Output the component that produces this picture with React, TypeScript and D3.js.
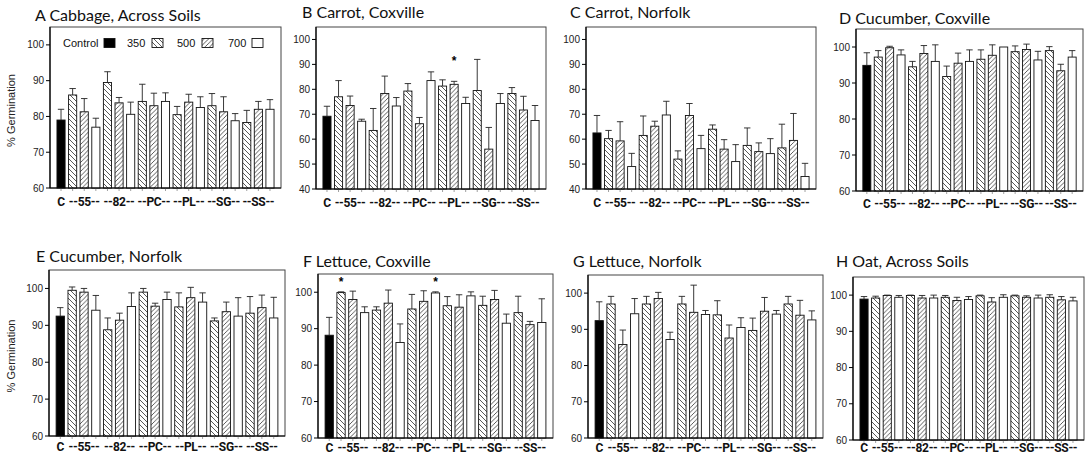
import * as d3 from "d3";

// bar order: control, then each soil amendment at 350 / 500 / 700
const soils = ["55", "82", "PC", "PL", "SG", "SS"];
const levels = ["350", "500", "700"];
const groupLabels = ["C", "--55--", "--82--", "--PC--", "--PL--", "--SG--", "--SS--"];
const legendLabels = ["Control", "350", "500", "700"];
const barKeys = ["C", ...soils.flatMap((s) => levels.map((l) => s + "-" + l))];

const ticks60 = [60, 70, 80, 90, 100];
const ticks40 = [40, 50, 60, 70, 80, 90, 100];

const titles = [
  "A Cabbage, Across Soils",
  "B Carrot, Coxville",
  "C Carrot, Norfolk",
  "D Cucumber, Coxville",
  "E Cucumber, Norfolk",
  "F Lettuce, Coxville",
  "G Lettuce, Norfolk",
  "H Oat, Across Soils",
];

const meanA = [79, 86, 81.3, 77, 89.5, 83.8, 80.6, 84.2, 83, 84.2, 80.5, 84, 82.5, 83, 81.3, 78.8, 78.3, 82, 82];
const seA = [3, 1.8, 3.7, 2.5, 3, 1.5, 3.4, 4.8, 3.5, 2.4, 2.3, 2.2, 3, 3.4, 4.2, 2, 3.4, 2.2, 2.7];
const meanB = [69.2, 77, 73.5, 67.2, 63.5, 78.3, 73.3, 79.3, 66.2, 83.5, 81.3, 82, 74.3, 79.5, 56, 74.3, 78.3, 71.7, 67.5];
const seB = [4, 6.5, 3.8, 0.8, 8.8, 7, 3.4, 3, 2.5, 3.5, 2.5, 1.2, 2.5, 12.5, 8.7, 4, 2.4, 5.5, 6];
const meanC = [62.5, 60.2, 59.3, 49, 61.5, 65.2, 69.7, 52, 69.5, 56.2, 64, 56, 51, 57.5, 55, 54.2, 56.5, 59.5, 45];
const seC = [7, 3.3, 7.7, 5.3, 7.8, 2, 5.5, 3.3, 4.8, 5.3, 1.7, 3.8, 6.8, 7, 3.5, 6, 9.5, 10.8, 5.3];
const meanD = [94.9, 97.2, 99.8, 97.8, 94.5, 98.2, 96, 91.8, 95.5, 96, 96.6, 97.7, 100, 98.7, 99.3, 96.4, 99, 93.4, 97.2];
const seD = [3.5, 1.8, 0.4, 1.4, 1.5, 2.2, 4.6, 2.9, 2.8, 3.2, 2.6, 2.9, 0, 1.6, 1.5, 2.4, 1.1, 1.8, 1.8];
const meanE = [92.5, 99.5, 99, 94.1, 88.8, 91.4, 95.1, 99, 95.2, 97, 95, 97.5, 96.3, 91.2, 93.7, 92.5, 93.3, 94.8, 92];
const seE = [2.3, 0.9, 1, 4, 3.2, 1.9, 3.7, 1, 0.8, 2, 3.8, 2.8, 2.5, 0.8, 2.6, 5, 4.5, 3.4, 5.6];
const meanF = [88.2, 99.9, 98, 94.4, 95.1, 97, 86.2, 95.4, 97.5, 99.8, 96.3, 95.9, 99, 96.4, 98, 91.5, 94.4, 91.1, 91.7];
const seF = [4.9, 0.2, 2.3, 1.6, 0.9, 3.6, 5.1, 4, 2.9, 0.3, 2.5, 3.4, 1.1, 2.5, 2.5, 2.5, 4.5, 0.9, 6.5];
const meanG = [92.4, 97, 85.8, 94.3, 97, 98.5, 87.2, 97, 94.7, 94.1, 94, 87.6, 90.5, 89.7, 95, 94.2, 97, 93.9, 92.6];
const seG = [5.2, 2.1, 4, 4.2, 2.1, 1.7, 2, 2.1, 7.5, 1.1, 3.9, 3.6, 2.7, 3.4, 3.8, 1, 2.1, 4.1, 2.5];
const meanH = [98.9, 99.2, 99.9, 99.4, 99.9, 99.2, 99.2, 99.4, 98.5, 98.8, 99.8, 98.1, 99.4, 99.8, 99.4, 99.2, 99.4, 98.7, 98.4];
const seH = [0.7, 0.5, 0.1, 0.5, 0.1, 0.7, 0.8, 0.5, 0.9, 0.8, 0.2, 1.2, 0.7, 0.2, 0.4, 0.8, 0.7, 0.9, 1];

// significance marks: [bar index, height in % units]
const starsB = [[11, 91.7]];
const starsF = [[1, 103.2], [9, 103.2]];

// panel frames in page pixels (lb = baseline of category labels)
const layout = [
  { x0: 50, x1: 281, y0: 27, y1: 188, tx: 35, ty: 21, lb: 206 },
  { x0: 316, x1: 546, y0: 27, y1: 189, tx: 302, ty: 18, lb: 207 },
  { x0: 586, x1: 816, y0: 27, y1: 189, tx: 570, ty: 18, lb: 207 },
  { x0: 856, x1: 1083, y0: 29, y1: 191, tx: 839, ty: 24, lb: 208 },
  { x0: 49, x1: 285, y0: 270, y1: 436, tx: 36, ty: 262, lb: 451 },
  { x0: 318, x1: 553, y0: 274, y1: 438, tx: 303, ty: 267, lb: 452 },
  { x0: 588, x1: 823, y0: 275, y1: 438, tx: 573, ty: 267, lb: 452 },
  { x0: 853, x1: 1084, y0: 277, y1: 440, tx: 836, ty: 267, lb: 452 },
];

const panels = [
  { mean: meanA, se: seA, ticks: ticks60, stars: [] as number[][] },
  { mean: meanB, se: seB, ticks: ticks40, stars: starsB },
  { mean: meanC, se: seC, ticks: ticks40, stars: [] as number[][] },
  { mean: meanD, se: seD, ticks: ticks60, stars: [] as number[][] },
  { mean: meanE, se: seE, ticks: ticks60, stars: [] as number[][] },
  { mean: meanF, se: seF, ticks: ticks60, stars: starsF },
  { mean: meanG, se: seG, ticks: ticks60, stars: [] as number[][] },
  { mean: meanH, se: seH, ticks: ticks60, stars: [] as number[][] },
];

const fills = ["#000", "url(#hatch350)", "url(#hatch500)", "#fff"];
const arial = "'Liberation Sans', Arial, sans-serif";
const lato = "Lato, 'Open Sans', sans-serif";

function fillFor(i: number) {
  return i === 0 ? fills[0] : fills[1 + ((i - 1) % 3)];
}

function Panel({ idx }: { idx: number }) {
  const p = panels[idx];
  const L = layout[idx];
  const x = d3.scaleBand<string>().domain(barKeys).range([L.x0, L.x1]).paddingInner(0.3).paddingOuter(0.6);
  const y = d3.scaleLinear().domain([p.ticks[0], 105]).range([L.y1, L.y0]);
  const bw = x.bandwidth();
  const groupCenter = (g: number) => {
    const k = g === 0 ? barKeys[0] : barKeys[1 + (g - 1) * 3 + 1];
    return (x(k) as number) + bw / 2;
  };
  return (
    <g>
      <text x={L.tx} y={L.ty} fontFamily={lato} fontSize={16} fill="#111">
        {titles[idx]}
      </text>
      {/* frame */}
      <rect x={L.x0} y={L.y0} width={L.x1 - L.x0} height={L.y1 - L.y0} fill="none" stroke="#444" strokeWidth={1} />
      {barKeys.map((k, i) => {
        const bx = x(k) as number;
        const top = y(p.mean[i]);
        const et = y(p.mean[i] + p.se[i]);
        const cx = bx + bw / 2;
        return (
          <g key={k}>
            <rect x={bx} y={top} width={bw} height={L.y1 - top} fill={fillFor(i)} stroke="#111" strokeWidth={0.9} />
            {p.se[i] > 0 && (
              <g stroke="#222" strokeWidth={0.9}>
                <line x1={cx} x2={cx} y1={top} y2={et} />
                <line x1={cx - 3.2} x2={cx + 3.2} y1={et} y2={et} />
              </g>
            )}
            <line x1={cx} x2={cx} y1={L.y1} y2={L.y1 + 3} stroke="#777" strokeWidth={0.7} />
          </g>
        );
      })}
      {p.stars.map(([bi, v], j) => (
        <text
          key={j}
          x={(x(barKeys[bi]) as number) + bw / 2}
          y={y(v) + 5}
          textAnchor="middle"
          fontFamily={arial}
          fontWeight="bold"
          fontSize={12}
        >
          *
        </text>
      ))}
      {/* axes */}
      <line x1={L.x0} x2={L.x0} y1={L.y0} y2={L.y1} stroke="#000" strokeWidth={1.2} />
      <line x1={L.x0} x2={L.x1} y1={L.y1} y2={L.y1} stroke="#000" strokeWidth={1.2} />
      {p.ticks.map((t) => (
        <g key={t}>
          <line x1={L.x0 - 4} x2={L.x0} y1={y(t)} y2={y(t)} stroke="#000" strokeWidth={1} />
          <text x={L.x0 - 6} y={y(t)} dy="0.35em" textAnchor="end" fontFamily={arial} fontSize={10} fill="#222">
            {t}
          </text>
        </g>
      ))}
      {groupLabels.map((g, gi) => (
        <text
          key={g}
          x={groupCenter(gi)}
          y={L.lb}
          textAnchor="middle"
          fontFamily="Roboto, 'Liberation Sans', sans-serif"
          fontWeight="bold"
          fontSize={12}
          letterSpacing={-0.3}
          fill="#111"
        >
          {g}
        </text>
      ))}
      {(idx === 0 || idx === 4) && (
        <text
          transform={`translate(15,${(L.y0 + L.y1) / 2 + 3}) rotate(-90)`}
          textAnchor="middle"
          fontFamily={arial}
          fontSize={11}
          fill="#222"
        >
          % Germination
        </text>
      )}
      {idx === 0 && <Legend x0={L.x0} y0={L.y0} />}
    </g>
  );
}

function Legend({ x0, y0 }: { x0: number; y0: number }) {
  const textX = [13, 77, 127, 178];
  const boxX = [54, 102, 152, 202];
  const cy = y0 + 16;
  return (
    <g>
      {legendLabels.map((l, i) => (
        <g key={l}>
          <text x={x0 + textX[i]} y={cy} dy="0.35em" fontFamily={arial} fontSize={11} fill="#111">
            {l}
          </text>
          <rect x={x0 + boxX[i]} y={cy - 4.5} width={11} height={9} fill={fills[i]} stroke="#111" strokeWidth={0.9} />
        </g>
      ))}
    </g>
  );
}

export default function App() {
  return (
    <svg width={1089} height={459} style={{ position: "absolute", left: 0, top: 0, background: "#fff" }}>
      <defs>
        <pattern id="hatch350" patternUnits="userSpaceOnUse" width={5} height={5}>
          <rect width={5} height={5} fill="#fff" />
          <path d="M-1,-1 L6,6 M-1,4 L1,6 M4,-1 L6,1" stroke="#222" strokeWidth={0.75} />
        </pattern>
        <pattern id="hatch500" patternUnits="userSpaceOnUse" width={4.5} height={4.5}>
          <rect width={4.5} height={4.5} fill="#fff" />
          <path d="M-1,5.5 L5.5,-1 M-1,1 L1,-1 M3.5,5.5 L5.5,3.5" stroke="#222" strokeWidth={0.75} />
        </pattern>
      </defs>
      {panels.map((_, i) => (
        <Panel key={i} idx={i} />
      ))}
    </svg>
  );
}
